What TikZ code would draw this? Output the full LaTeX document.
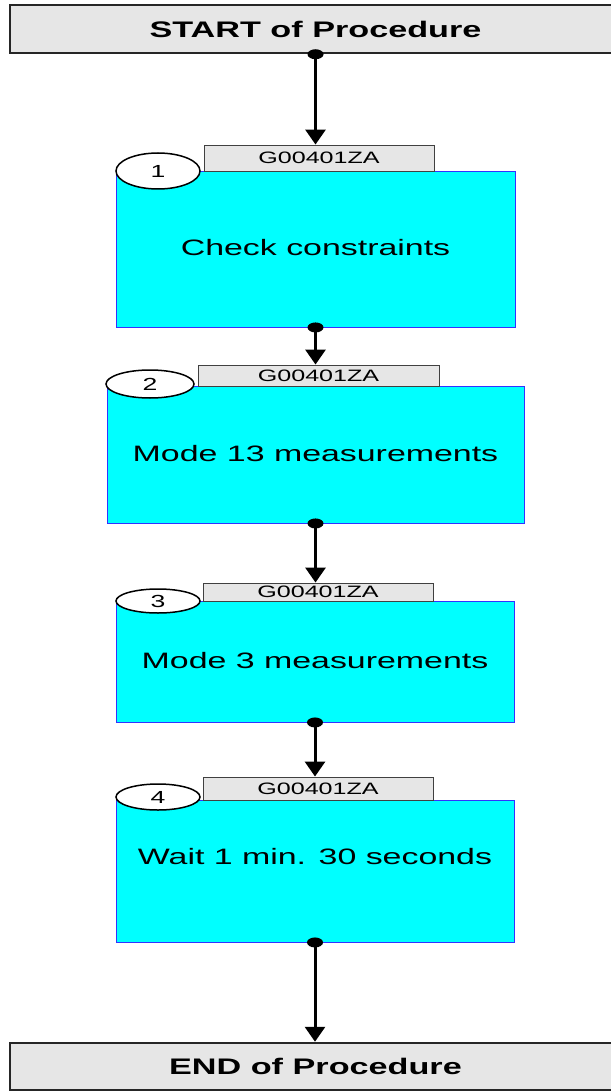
\documentclass[tikz,border=0pt]{standalone}
\usepackage{fontspec}
\setmainfont{Liberation Sans}
\usepackage{graphicx}
\usetikzlibrary{arrows.meta,shapes.geometric}

\definecolor{boxgray}{RGB}{230,230,230}
\definecolor{taskcyan}{RGB}{0,255,255}
\definecolor{edgeblue}{RGB}{50,50,255}
\newcommand{\wide}[1]{\scalebox{1.52}[1]{#1}}

\tikzset{
    endbox/.style={draw=black!85,line width=2.5pt,fill=boxgray,inner sep=0pt,
        minimum width=611pt,font=\fontsize{22.5}{26}\selectfont\bfseries},
    taskbox/.style={draw=edgeblue,line width=0.9pt,fill=taskcyan,inner sep=0pt},
    headbox/.style={draw=black!75,line width=0.9pt,fill=boxgray,inner sep=0pt,
        font=\fontsize{16.5}{18}\selectfont},
    numoval/.style={ellipse,draw=black,line width=1.5pt,fill=white,inner sep=0pt,
        font=\fontsize{17.5}{18}\selectfont},
    tasktext/.style={inner sep=0pt,font=\fontsize{22.3}{26}\selectfont},
    flow/.style={line width=3pt,-{Triangle[length=15pt,width=20pt]}}
}

\begin{document}
\begin{tikzpicture}[x=1pt,y=-1pt]
    \useasboundingbox (0,0) rectangle (610,1091);

    % start / end
    \node[endbox,minimum height=48pt] (start) at (315.5,29) {\wide{START of Procedure}};
    \node[endbox,minimum height=47pt] (end) at (315.5,1066.5) {\wide{END of Procedure}};

    % task 1
    \node[taskbox,minimum width=399pt,minimum height=156pt] (b1) at (315.5,249) {};
    \node[headbox,minimum width=230pt,minimum height=26pt] (h1) at (319,158) {\wide{G00401ZA}};
    \node[numoval,minimum width=84pt,minimum height=36pt] (n1) at (158,171) {\wide{1}};
    \node[tasktext] (t1) at (315.5,248) {\wide{Check constraints}};

    % task 2
    \node[taskbox,minimum width=417pt,minimum height=137pt] (b2) at (315.5,454.5) {};
    \node[headbox,minimum width=241pt,minimum height=21pt] (h2) at (318.5,375.5) {\wide{G00401ZA}};
    \node[numoval,minimum width=88pt,minimum height=28pt] (n2) at (150,384) {\wide{2}};
    \node[tasktext] (t2) at (315.5,454) {\wide{Mode 13 measurements}};

    % task 3
    \node[taskbox,minimum width=398pt,minimum height=121pt] (b3) at (315,661.5) {};
    \node[headbox,minimum width=230pt,minimum height=18pt] (h3) at (318,592) {\wide{G00401ZA}};
    \node[numoval,minimum width=84pt,minimum height=24pt] (n3) at (158,601) {\wide{3}};
    \node[tasktext] (t3) at (315,661) {\wide{Mode 3 measurements}};

    % task 4
    \node[taskbox,minimum width=398pt,minimum height=142pt] (b4) at (315,871) {};
    \node[headbox,minimum width=230pt,minimum height=23pt] (h4) at (318,788.5) {\wide{G00401ZA}};
    \node[numoval,minimum width=84pt,minimum height=26pt] (n4) at (158,797) {\wide{4}};
    \node[tasktext] (t4) at (315,857) {\wide{Wait 1 min. 30 seconds}};

    % connectors
    \draw[flow] (start.south) -- (start.south |- h1.north);
    \draw[flow] (b1.south) -- (b1.south |- h2.north);
    \draw[flow] (b2.south) -- (b2.south |- h3.north);
    \draw[flow] (b3.south) -- (b3.south |- h4.north);
    \draw[flow] (b4.south) -- (b4.south |- end.north);
    \foreach \n in {start,b1,b2,b3,b4}
        \fill (\n.south) ellipse (8 and 5);
\end{tikzpicture}
\end{document}
